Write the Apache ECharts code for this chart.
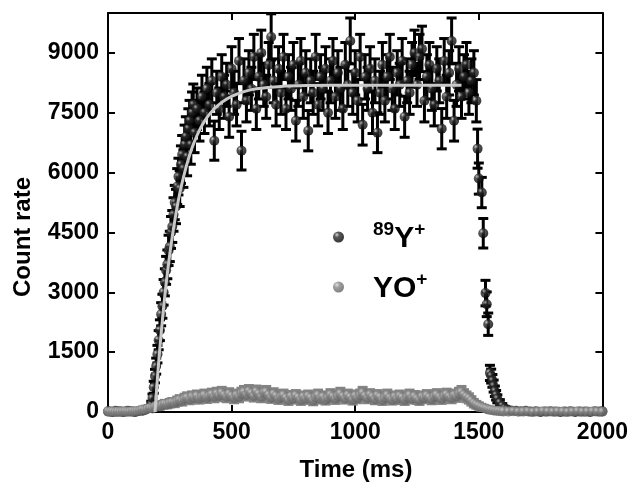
<!DOCTYPE html>
<html><head><meta charset="utf-8">
<script src="https://cdn.jsdelivr.net/npm/echarts@6/dist/echarts.min.js"></script>
<style>html,body{margin:0;padding:0;background:#fff}#c{width:631px;height:487px}</style>
</head><body><div id="c"></div>
<script>
// ---- data ----
const xTicks = [0, 500, 1000, 1500, 2000];
const yTicks = [0, 1500, 3000, 4500, 6000, 7500, 9000];
const seriesNames = ['89Y+', 'YO+'];
const xTitle = 'Time (ms)';
const yTitle = 'Count rate';

// [time ms, count rate, error]
const y89 = [
 [0,20,5],[10,10,5],[20,0,0],[30,30,8],[40,10,5],[50,20,6],[60,0,0],[70,10,5],[80,30,8],[90,20,6],
 [100,10,5],[110,0,0],[120,20,6],[130,40,10],[140,30,8],[150,60,20],[160,90,30],[170,100,40],
 [175,200,70],[180,350,100],[185,620,150],[190,900,170],[195,1150,200],[200,1450,220],[205,1800,240],
 [210,2050,260],[215,2450,290],[220,2650,300],[225,3000,320],[230,3250,340],[235,3550,350],[240,3700,360],
 [245,4050,380],[250,4150,380],[255,4500,400],[260,4650,400],[265,4950,420],[270,5250,430],[275,5150,430],
 [280,5650,450],[285,5900,460],[290,5600,450],[295,6200,470],[300,6450,480],[305,6100,470],[310,6700,490],
 [315,6900,500],[320,6400,480],[325,7100,500],[330,7300,510],[335,6700,490],[340,7500,520],[345,7700,520],
 [350,7000,500],
 [360,7600,520],[370,7300,510],[380,7900,540],[390,7500,520],[400,8100,540],[410,7700,530],[420,8300,550],
 [430,6800,490],[440,8000,540],[450,7600,520],[460,8400,555],[470,7900,540],[480,8200,540],[490,7400,515],
 [500,8600,555],[510,8000,540],[520,7700,530],[530,8800,560],[540,6550,485],[550,8300,550],[560,7800,530],
 [570,8500,555],[580,8100,540],[590,8900,565],[600,7600,520],[610,8400,555],[620,9000,570],[630,8200,540],
 [640,7900,540],[650,8700,560],[660,9400,580],[670,8300,550],[680,7700,530],[690,8600,555],[700,8000,540],
 [710,8900,565],[720,7600,520],[730,8400,555],[740,8100,540],[750,8700,560],[760,7300,510],[770,8200,540],
 [780,8800,560],[790,7900,540],[800,8500,555],[810,7050,505],[820,8300,550],[830,8000,540],[840,8900,565],
 [850,7700,530],[860,8400,555],[870,8100,540],[880,8600,555],[890,7500,520],[900,8300,550],[910,8800,560],
 [920,7900,540],[930,8500,555],[940,8100,540],[950,7600,520],[960,8700,560],[970,8200,540],[980,9300,575],
 [990,8000,540],[1000,8500,555],[1010,7800,530],[1020,8900,565],[1030,7200,510],[1040,8400,555],[1050,8100,540],
 [1060,8600,555],[1070,7500,520],[1080,8300,550],[1090,7000,500],[1100,8000,540],[1110,8700,560],[1120,7800,530],
 [1130,8400,555],[1140,8900,565],[1150,8100,540],[1160,7600,520],[1170,8500,555],[1180,8200,540],[1190,8800,560],
 [1200,7400,515],[1210,8300,550],[1220,8000,540],[1230,8700,560],[1240,9000,570],[1250,8200,540],[1260,8900,565],
 [1270,9100,570],[1280,7800,530],[1290,8400,555],[1300,8700,560],[1310,8100,540],[1320,7700,530],[1330,8600,555],
 [1340,8300,550],[1350,7100,505],[1360,8800,560],[1370,7900,540],[1380,8500,555],[1390,9300,575],[1400,7300,510],
 [1410,8200,540],[1420,8600,555],[1430,7900,540],[1440,8400,555],[1450,8700,560],[1460,8000,540],[1470,8300,550],
 [1480,8500,555],[1490,7800,530],[1495,6600,490],[1500,5850,390],[1512,5500,380],[1518,4480,370],[1527,2980,320],
 [1532,2700,310],[1538,2200,280],[1545,980,190],[1550,900,175],[1555,780,160],[1560,650,150],[1565,520,130],
 [1570,420,120],[1575,330,100],[1585,230,80],[1595,150,60],[1605,90,40],[1615,60,30],
 [1630,40,10],[1650,30,8],[1670,20,6],[1690,30,8],[1710,10,5],[1730,20,6],[1750,0,0],[1770,10,5],[1790,20,6],
 [1810,10,5],[1830,0,0],[1850,10,5],[1870,20,6],[1890,0,0],[1910,10,5],[1930,10,5],[1950,0,0],[1970,20,6],
 [1990,10,5],[2000,20,6]
];

// [time ms, count rate, error]
const yo = [
 [0,10,3],[10,5,2],[20,10,3],[30,0,0],[40,10,3],[50,5,2],[60,10,3],[70,15,4],[80,5,2],[90,10,3],
 [100,20,5],[110,15,4],[120,25,8],[130,40,15],[140,60,25],[150,50,20],[160,80,40],[170,100,50],[180,90,45],
 [190,130,60],[200,150,70],[210,140,65],[220,180,80],[230,200,85],[240,190,80],[250,220,90],[260,240,92],
 [270,230,90],[280,270,98],[290,300,104],[300,280,100],[310,330,109],[320,360,114],[330,320,107],[340,380,117],
 [350,350,112],[360,400,120],[370,340,110],[380,380,117],[390,420,123],[400,360,114],[410,400,120],[420,440,126],
 [430,380,117],[440,460,129],[450,410,121],[460,480,131],[470,420,123],[480,380,117],[490,450,127],[500,400,120],
 [510,350,112],[520,420,123],[530,380,117],[540,460,129],[550,500,134],[560,430,124],[570,520,137],[580,470,130],
 [590,400,120],[600,510,135],[610,450,127],[620,380,117],[630,480,131],[640,500,134],[650,420,123],[660,360,114],
 [670,450,127],[680,400,120],[690,330,109],[700,380,117],[710,420,123],[720,350,112],[730,300,104],[740,390,118],
 [750,340,110],[760,410,121],[770,360,114],[780,300,104],[790,380,117],[800,330,109],[810,400,120],[820,350,112],
 [830,290,102],[840,370,115],[850,420,123],[860,340,110],[870,380,117],[880,310,106],[890,360,114],[900,430,124],
 [910,380,117],[920,330,109],[930,400,120],[940,460,129],[950,390,118],[960,340,110],[970,420,123],[980,370,115],
 [990,310,106],[1000,400,120],[1010,350,112],[1020,420,123],[1030,480,131],[1040,400,120],[1050,350,112],[1060,430,124],
 [1070,380,117],[1080,320,107],[1090,410,121],[1100,370,115],[1110,300,104],[1120,360,114],[1130,420,123],[1140,350,112],
 [1150,310,106],[1160,380,117],[1170,330,109],[1180,400,120],[1190,360,114],[1200,300,104],[1210,370,115],[1220,420,123],
 [1230,340,110],[1240,390,118],[1250,330,109],[1260,300,104],[1270,380,117],[1280,350,112],[1290,410,121],[1300,360,114],
 [1310,320,107],[1320,390,118],[1330,430,124],[1340,370,115],[1350,330,109],[1360,400,120],[1370,440,126],[1380,380,117],
 [1390,350,112],[1400,420,123],[1410,390,118],[1420,460,129],[1430,500,134],[1440,430,124],[1450,380,117],[1460,340,110],
 [1470,280,100],[1480,220,89],[1490,180,80],[1500,150,73],[1510,120,66],[1520,100,60],[1530,80,54],[1540,60,46],
 [1550,50,42],[1560,40,38],[1570,30,33],[1580,25,30],[1590,20,27],
 [1600,15,5],[1620,10,3],[1640,20,5],[1660,5,2],[1680,10,3],[1700,15,4],[1720,0,0],[1740,10,3],[1760,20,5],
 [1780,10,3],[1800,5,2],[1820,15,4],[1840,10,3],[1860,0,0],[1880,10,3],[1900,20,5],[1920,5,2],[1940,10,3],
 [1960,15,4],[1980,10,3],[2000,5,2]
];

// fitted rise curve: [time ms, count rate]
const fit = [
 [190,0],[200,850],[210,1620],[220,2300],[230,2920],[240,3470],[250,3960],[260,4400],[270,4790],[280,5150],
 [290,5470],[300,5750],[320,6230],[340,6620],[360,6930],[380,7180],[400,7380],[430,7600],[460,7760],[500,7910],
 [550,8030],[600,8100],[700,8160],[800,8180],[1000,8190],[1200,8190],[1430,8190]
];

// ---- chart ----
const FONT = '"Liberation Sans", Arial, sans-serif';
const blackBall = {type:'radial', x:0.35, y:0.3, r:0.75,
  colorStops:[{offset:0,color:'#d0d0d0'},{offset:0.3,color:'#303030'},{offset:1,color:'#000'}]};
const greyBall = {type:'radial', x:0.35, y:0.3, r:0.75,
  colorStops:[{offset:0,color:'#d8d8d8'},{offset:0.35,color:'#878787'},{offset:1,color:'#5e5e5e'}]};

function errRender(color, lw){
  return function(params, api){
    const t = api.value(0), v = api.value(1), e = api.value(2);
    const top = api.coord([t, v + e]), bot = api.coord([t, v - e]);
    const hw = 5;
    const style = {stroke: color, lineWidth: lw};
    return {type:'group', children:[
      {type:'line', shape:{x1:top[0], y1:top[1], x2:bot[0], y2:bot[1]}, style},
      {type:'line', shape:{x1:top[0]-hw, y1:top[1], x2:top[0]+hw, y2:top[1]}, style},
      {type:'line', shape:{x1:bot[0]-hw, y1:bot[1], x2:bot[0]+hw, y2:bot[1]}, style}
    ]};
  };
}

const axisLineStyle = {color:'#000', width:2};
const tickStyle = {color:'#000', width:2};
const labelStyle = {fontSize:23, fontWeight:'bold', color:'#000', fontFamily:FONT,
  formatter:function(v){ return String(v); }};

const chart = echarts.init(document.getElementById('c'), null, {renderer:'canvas'});
chart.setOption({
  animation:false,
  backgroundColor:'#fff',
  grid:{left:108, right:28, top:13, bottom:75, containLabel:false},
  xAxis:[
    {type:'value', min:xTicks[0], max:xTicks[xTicks.length-1], interval:500, position:'bottom',
     axisLine:{onZero:false, lineStyle:axisLineStyle},
     axisTick:{inside:true, length:7, lineStyle:tickStyle},
     axisLabel:Object.assign({margin:9}, labelStyle),
     splitLine:{show:false}},
    {type:'value', min:xTicks[0], max:xTicks[xTicks.length-1], interval:500, position:'top',
     axisLine:{onZero:false, lineStyle:axisLineStyle},
     axisTick:{inside:true, length:7, lineStyle:tickStyle},
     axisLabel:{show:false}, splitLine:{show:false}}
  ],
  yAxis:[
    {type:'value', min:0, max:10000, position:'left',
     axisLine:{show:true, onZero:false, lineStyle:axisLineStyle},
     axisTick:{show:true, inside:true, length:7, lineStyle:tickStyle, customValues:yTicks},
     axisLabel:Object.assign({margin:9, customValues:yTicks}, labelStyle),
     splitLine:{show:false}},
    {type:'value', min:0, max:10000, position:'right',
     axisLine:{show:true, onZero:false, lineStyle:axisLineStyle},
     axisTick:{show:true, inside:true, length:7, lineStyle:tickStyle, customValues:yTicks},
     axisLabel:{show:false}, splitLine:{show:false}}
  ],
  legend:{
    orient:'vertical', left:328, top:215, padding:5, itemWidth:11, itemHeight:11, itemGap:16,
    icon:'circle', selectedMode:false, data:seriesNames,
    formatter:function(name){
      return name === seriesNames[0] ? '{sup|89}{main|Y}{sup|+}' : '{main|YO}{sup|+}';
    },
    textStyle:{padding:[0,0,0,24], rich:{
      main:{fontSize:30, fontWeight:'bold', color:'#000', fontFamily:FONT, lineHeight:34, verticalAlign:'bottom'},
      sup:{fontSize:19, fontWeight:'bold', color:'#000', fontFamily:FONT, lineHeight:8, verticalAlign:'top'}
    }}
  },
  graphic:[
    {type:'text', x:23, y:237, rotation:Math.PI/2,
     style:{text:yTitle, font:'bold 24px '+FONT, fill:'#000',
      align:'center', verticalAlign:'middle', textAlign:'center', textVerticalAlign:'middle'}},
    {type:'text', x:356, y:470,
     style:{text:xTitle, font:'bold 24px '+FONT, fill:'#000',
      align:'center', verticalAlign:'middle', textAlign:'center', textVerticalAlign:'middle'}}
  ],
  series:[
    {type:'custom', name:'Y err', xAxisIndex:0, yAxisIndex:0, data:y89, encode:{x:0, y:1},
     renderItem:errRender('#000000', 3), clip:true, z:2, silent:true},
    {type:'scatter', name:seriesNames[0], xAxisIndex:0, yAxisIndex:0, data:y89, encode:{x:0, y:1},
     symbol:'circle', symbolSize:10, itemStyle:{color:blackBall}, z:3},
    {type:'custom', name:'YO err', xAxisIndex:0, yAxisIndex:0, data:yo, encode:{x:0, y:1},
     renderItem:errRender('#838383', 3.5), clip:true, z:4, silent:true},
    {type:'scatter', name:seriesNames[1], xAxisIndex:0, yAxisIndex:0, data:yo, encode:{x:0, y:1},
     symbol:'circle', symbolSize:10, itemStyle:{color:greyBall}, z:5},
    {type:'line', name:'fit', xAxisIndex:0, yAxisIndex:0, data:fit, smooth:0.3, symbol:'none',
     lineStyle:{color:'#c8c8c8', width:3}, z:6, silent:true}
  ]
});
</script></body></html>
